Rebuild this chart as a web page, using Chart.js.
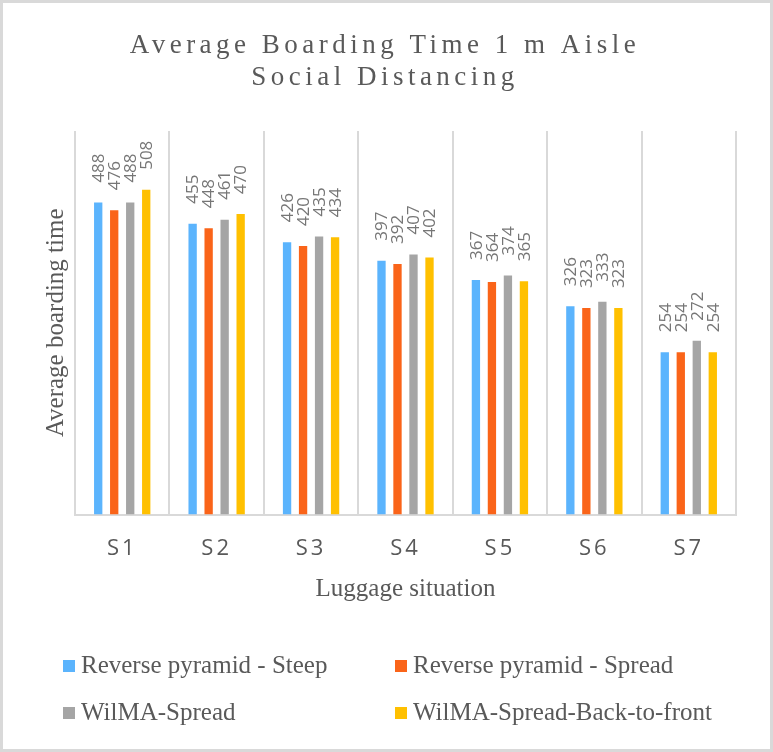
<!DOCTYPE html>
<html><head><meta charset="utf-8">
<script src="https://cdn.jsdelivr.net/npm/chart.js@4.4.0/dist/chart.umd.min.js"></script>
<style>html,body{margin:0;padding:0;background:#fff;} #wrap{width:773px;height:752px;position:relative;}</style>
</head><body><div id="wrap"><canvas id="c" width="773" height="752"></canvas></div>
<script>
const categories = ['S1','S2','S3','S4','S5','S6','S7'];
const seriesNames = ['Reverse pyramid - Steep','Reverse pyramid - Spread','WilMA-Spread','WilMA-Spread-Back-to-front'];
const steep = [488,455,426,397,367,326,254];
const spread = [476,448,420,392,364,323,254];
const wilmaSpread = [488,461,435,407,374,333,272];
const wilmaBtf = [508,470,434,402,365,323,254];
const seriesColors = ['#5BB4FD','#FA6419','#A5A5A5','#FFC000'];
const titleLines = ['Average Boarding Time 1 m Aisle','Social Distancing'];
const yTitle = 'Average boarding time';
const xTitle = 'Luggage situation';
const yMin = 0;
const yMax = 600;

const spacingPlugin = {
  id: 'spacing',
  afterUpdate(chart) {
    const tb = chart.titleBlock;
    if (tb && !tb._ls) {
      const o = tb.draw;
      tb.draw = function (...a) { const c = this.ctx; c.save(); c.translate(7, 0); c.letterSpacing = '4.5px'; o.apply(this, a); c.restore(); };
      tb._ls = true;
    }
    const xs = chart.scales.x;
    if (xs && !xs._ls) {
      const o = xs.drawLabels;
      xs.drawLabels = function (...a) { const c = this.ctx; c.save(); c.letterSpacing = '3px'; o.apply(this, a); c.restore(); };
      xs._ls = true;
    }
  }
};

const framePlugin = {
  id: 'frame',
  beforeDraw(chart) {
    const c = chart.ctx;
    c.save();
    c.fillStyle = '#ffffff';
    c.fillRect(0, 0, chart.width, chart.height);
    c.strokeStyle = '#D9D9D9';
    c.lineWidth = 3;
    c.strokeRect(1.5, 1.5, chart.width - 3, chart.height - 3);
    c.restore();
  }
};

const valueLabels = {
  id: 'valueLabels',
  afterDatasetsDraw(chart) {
    const ctx = chart.ctx;
    ctx.save();
    ctx.font = '17px "Open Sans"';
    ctx.fillStyle = '#767676';
    ctx.textAlign = 'left';
    ctx.textBaseline = 'middle';
    chart.data.datasets.forEach((ds, i) => {
      chart.getDatasetMeta(i).data.forEach((bar, j) => {
        ctx.save();
        ctx.translate(bar.x + 1, bar.y - 20);
        ctx.rotate(-Math.PI / 2);
        ctx.fillText(String(ds.data[j]), 0, 0);
        ctx.restore();
      });
    });
    ctx.restore();
  }
};

const gridLegend = {
  id: 'gridLegend',
  afterDraw(chart) {
    const ctx = chart.ctx;
    ctx.save();
    ctx.font = '25px "Liberation Serif"';
    ctx.textAlign = 'left';
    ctx.textBaseline = 'alphabetic';
    const colX = [63, 395];
    const rowBase = [673, 720];
    chart.data.datasets.forEach((ds, i) => {
      const x = colX[i % 2];
      const b = rowBase[Math.floor(i / 2)];
      ctx.fillStyle = ds.backgroundColor;
      ctx.fillRect(x, b - 13, 12, 12);
      ctx.fillStyle = '#595959';
      ctx.fillText(ds.label, x + 18, b);
    });
    ctx.restore();
  }
};

const seriesData = [steep, spread, wilmaSpread, wilmaBtf];
new Chart(document.getElementById('c'), {
  type: 'bar',
  data: {
    labels: categories,
    datasets: seriesNames.map((n, i) => ({
      label: n,
      data: seriesData[i],
      backgroundColor: seriesColors[i],
      borderWidth: 0,
      barPercentage: 0.52,
      categoryPercentage: 0.678
    }))
  },
  options: {
    responsive: false,
    animation: false,
    devicePixelRatio: 1,
    layout: { padding: { left: 20, right: 37, top: 0, bottom: 148 } },
    plugins: {
      legend: { display: false },
      tooltip: { enabled: false },
      title: {
        display: true, text: titleLines, color: '#595959',
        font: { family: '"Liberation Serif"', size: 27, weight: 'normal', lineHeight: 32 / 27 },
        padding: { top: 30, bottom: 37 }
      }
    },
    scales: {
      x: {
        grid: { display: true, offset: true, color: '#D9D9D9', lineWidth: 2, drawTicks: false },
        border: { display: true, color: '#D9D9D9', width: 2 },
        ticks: { color: '#595959', font: { family: '"Open Sans"', size: 22 }, padding: 21 },
        title: { display: true, text: xTitle, color: '#595959', font: { family: '"Liberation Serif"', size: 25 }, padding: { top: -9, bottom: 0 } }
      },
      y: {
        min: yMin, max: yMax,
        grid: { display: false, drawTicks: false },
        border: { display: false },
        ticks: { display: false },
        title: { display: true, text: yTitle, color: '#595959', font: { family: '"Liberation Serif"', size: 25 }, padding: { top: 21, bottom: 4 } }
      }
    }
  },
  plugins: [spacingPlugin, framePlugin, valueLabels, gridLegend]
});
</script>
</body></html>
